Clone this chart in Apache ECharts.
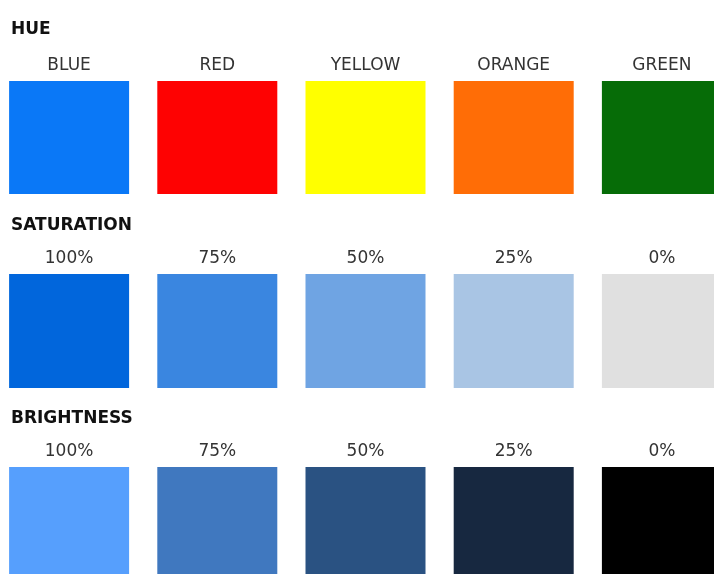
<!DOCTYPE html>
<html>
<head>
<meta charset="utf-8">
<script src="https://cdn.jsdelivr.net/npm/echarts@6/dist/echarts.min.js"></script>
<style>
  html, body { margin: 0; padding: 0; background: #fff; }
  #container { width: 714px; height: 574px; }
</style>
</head>
<body>
<div id="container"></div>
<script>
var dom = document.getElementById('container');
var myChart = echarts.init(dom, null, { renderer: 'canvas' });

// rows of swatches
var rowTitles = ['HUE', 'SATURATION', 'BRIGHTNESS'];
var hueLabels = ['BLUE', 'RED', 'YELLOW', 'ORANGE', 'GREEN'];
var hueColors = ['#0a78f7', '#fe0202', '#ffff00', '#ff6d06', '#066c07'];
var satLabels = ['100%', '75%', '50%', '25%', '0%'];
var satColors = ['#0166dc', '#3a86e0', '#6fa4e3', '#a9c5e4', '#e0e0e0'];
var briLabels = ['100%', '75%', '50%', '25%', '0%'];
var briColors = ['#569ffd', '#4078bf', '#2a5282', '#172840', '#000000'];
var swatchValue = [1, 1, 1, 1, 1];

var rowLabels = [hueLabels, satLabels, briLabels];
var rowColors = [hueColors, satColors, briColors];

// layout per row (pixels)
var gridTops = [81, 274, 467];
var gridHeights = [113, 114, 120];
var titleTops = [16, 212, 405];

var grids = [], xAxes = [], yAxes = [], series = [], titles = [];

for (var i = 0; i < 3; i++) {
  grids.push({
    left: -5, width: 741, top: gridTops[i], height: gridHeights[i],
    outerBoundsMode: 'none', containLabel: false
  });
  xAxes.push({
    gridIndex: i,
    type: 'category',
    position: 'top',
    data: rowLabels[i],
    axisLine: { show: false },
    axisTick: { show: false },
    axisLabel: {
      color: '#333',
      fontFamily: 'DejaVu Sans',
      fontSize: 17,
      margin: 7,
      interval: 0
    }
  });
  yAxes.push({
    gridIndex: i,
    type: 'value',
    min: 0,
    max: 1,
    show: false
  });
  series.push({
    type: 'bar',
    xAxisIndex: i,
    yAxisIndex: i,
    barWidth: 120,
    silent: true,
    data: swatchValue.map(function (v, j) {
      return { value: v, itemStyle: { color: rowColors[i][j] } };
    })
  });
  titles.push({
    text: rowTitles[i],
    left: 6,
    top: titleTops[i],
    textStyle: {
      fontFamily: 'DejaVu Sans',
      fontWeight: 'bold',
      fontSize: 17,
      color: '#111'
    }
  });
}

var option = {
  backgroundColor: '#fff',
  animation: false,
  title: titles,
  grid: grids,
  xAxis: xAxes,
  yAxis: yAxes,
  series: series
};

myChart.setOption(option);
window.addEventListener('resize', myChart.resize);
</script>
</body>
</html>
